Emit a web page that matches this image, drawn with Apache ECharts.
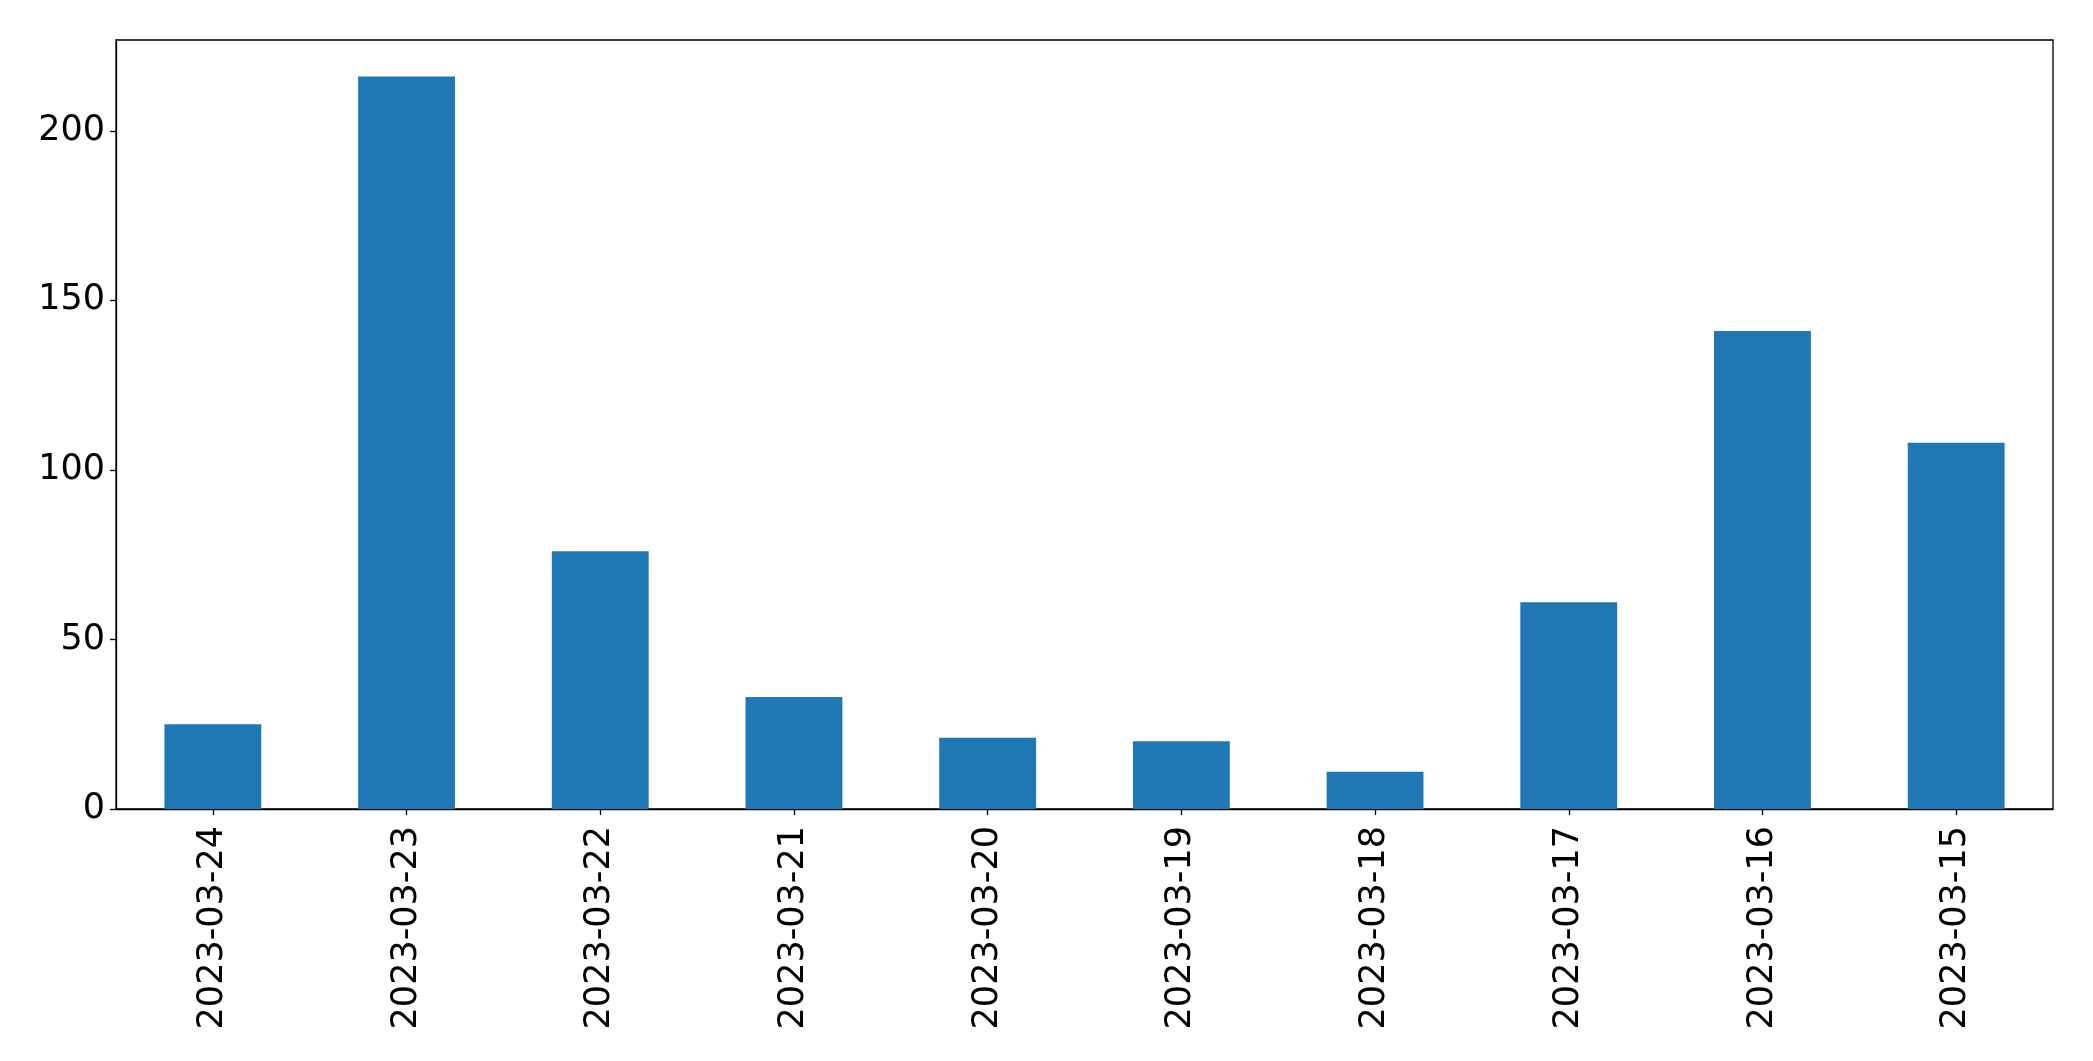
<!DOCTYPE html>
<html>
<head>
<meta charset="utf-8">
<script src="https://cdn.jsdelivr.net/npm/echarts@6/dist/echarts.min.js"></script>
<style>
html,body{margin:0;padding:0;background:#fff;}
#chart{width:2093px;height:1061px;}
</style>
</head>
<body>
<div id="chart"></div>
<script>
const categories = ['2023-03-24','2023-03-23','2023-03-22','2023-03-21','2023-03-20','2023-03-19','2023-03-18','2023-03-17','2023-03-16','2023-03-15'];
const values = [25, 216, 76, 33, 21, 20, 11, 61, 141, 108];
const yTicks = [0, 50, 100, 150, 200];

const chart = echarts.init(document.getElementById('chart'), null, {renderer: 'canvas'});
const font = {fontFamily: 'DejaVu Sans', fontSize: 35, color: '#000'};
chart.setOption({
  animation: false,
  backgroundColor: '#fff',
  grid: {left: 116, right: 40, top: 40, bottom: 252, show: true, borderColor: '#000', borderWidth: 1.3, backgroundColor: 'transparent'},
  xAxis: {
    type: 'category',
    data: categories,
    axisLine: {show: true, lineStyle: {color: '#000', width: 1.3}},
    axisTick: {show: true, alignWithLabel: true, length: 6, lineStyle: {color: '#000', width: 1.3}},
    axisLabel: Object.assign({rotate: 90, margin: 17, interval: 0}, font),
    splitLine: {show: false}
  },
  yAxis: {
    type: 'value',
    min: 0,
    max: 226.8,
    interval: 50,
    axisLine: {show: true, lineStyle: {color: '#000', width: 1.3}},
    axisTick: {show: true, length: 6, lineStyle: {color: '#000', width: 1.3}, customValues: yTicks},
    axisLabel: Object.assign({margin: 11, customValues: yTicks}, font),
    splitLine: {show: false}
  },
  series: [{
    type: 'bar',
    data: values,
    barWidth: '50%',
    itemStyle: {color: '#1f77b4'}
  }]
});
</script>
</body>
</html>
